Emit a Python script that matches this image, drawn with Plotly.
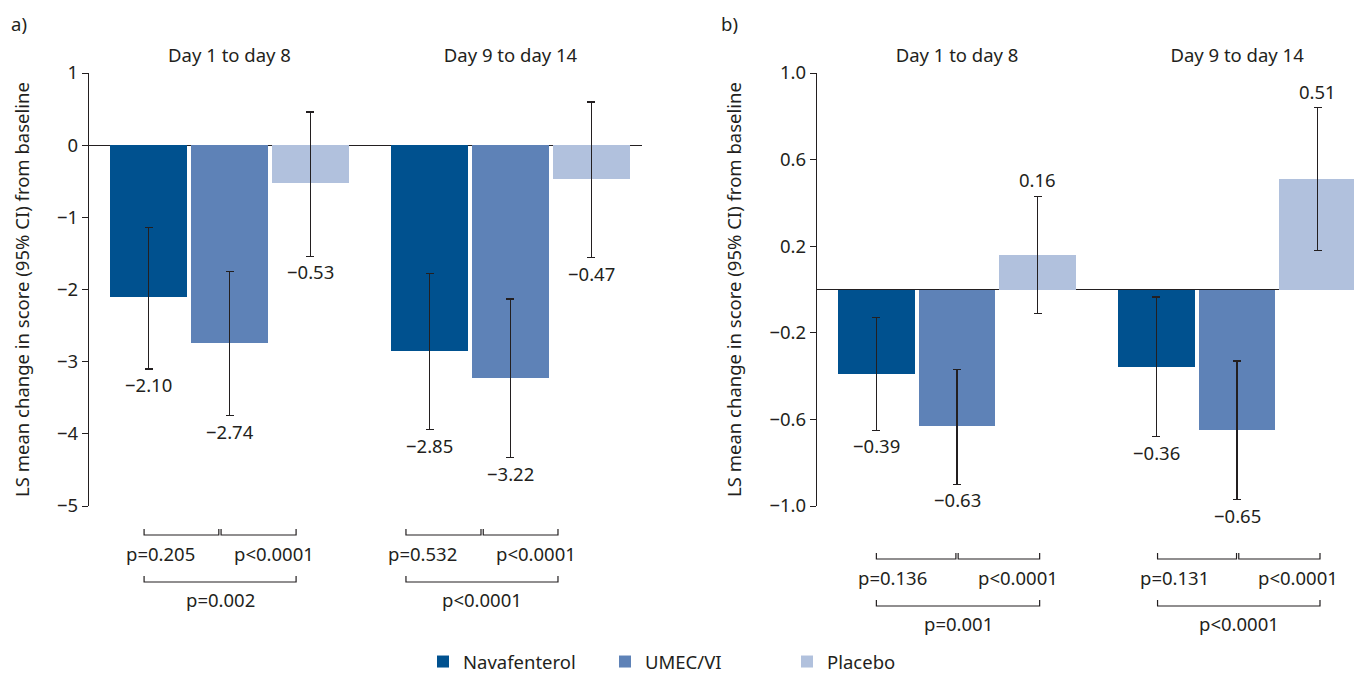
import plotly.graph_objects as go

# ---------------- data ----------------
groups = ["Day 1 to day 8", "Day 9 to day 14"]
treatments = ["Navafenterol", "UMEC/VI", "Placebo"]
colors = ["#00518f", "#5e82b7", "#b1c1dd"]

# panel a
a_nav_mean = [-2.10, -2.85]
a_nav_lo = [-3.10, -3.94]
a_nav_hi = [-1.14, -1.78]
a_umec_mean = [-2.74, -3.22]
a_umec_lo = [-3.75, -4.33]
a_umec_hi = [-1.75, -2.13]
a_pla_mean = [-0.53, -0.47]
a_pla_lo = [-1.54, -1.56]
a_pla_hi = [0.46, 0.60]

# panel b
b_nav_mean = [-0.39, -0.36]
b_nav_lo = [-0.65, -0.68]
b_nav_hi = [-0.13, -0.035]
b_umec_mean = [-0.63, -0.65]
b_umec_lo = [-0.90, -0.97]
b_umec_hi = [-0.37, -0.33]
b_pla_mean = [0.16, 0.51]
b_pla_lo = [-0.11, 0.18]
b_pla_hi = [0.43, 0.84]

# p-values
a_p_nav_umec = ["p=0.205", "p=0.532"]
a_p_umec_pla = ["p<0.0001", "p<0.0001"]
a_p_nav_pla = ["p=0.002", "p<0.0001"]
b_p_nav_umec = ["p=0.136", "p=0.131"]
b_p_umec_pla = ["p<0.0001", "p<0.0001"]
b_p_nav_pla = ["p=0.001", "p<0.0001"]

a_yticks = [1, 0, -1, -2, -3, -4, -5]
b_yticks = [1.0, 0.6, 0.2, -0.2, -0.6, -1.0]

# ---------------- style / layout constants ----------------
FONT = "Noto Sans, Source Sans Pro, sans-serif"
FS = 18.5
TXT = "#231f20"
SLOT = 0.288      # distance between bar centres within a group
BAR_W = 0.274
OFF = 8                   # page offset of the figure (default body margin)
H_TOP, H_BOT = 73, 506    # page rows of plot-area top/bottom
FIG_W, FIG_H = 1362, 674


def py(pix):
    """page row -> paper y"""
    return (H_BOT - pix) / (H_BOT - H_TOP)


def pxf(pix):
    """page column -> paper x"""
    return (pix - OFF) / FIG_W


def fmt(v):
    return f"{v:.2f}".replace("-", "\u2212")


fig = go.Figure()

panels = [
    dict(x="x", y="y",
         means=[a_nav_mean, a_umec_mean, a_pla_mean],
         los=[a_nav_lo, a_umec_lo, a_pla_lo],
         his=[a_nav_hi, a_umec_hi, a_pla_hi],
         p=[a_p_nav_umec, a_p_umec_pla, a_p_nav_pla],
         brx=[[-0.304, -0.034, 0.237], [-0.372, -0.101, 0.169]],
         rows=[535, 582], texts=[553, 599], legend=True),
    dict(x="x2", y="y2",
         means=[b_nav_mean, b_umec_mean, b_pla_mean],
         los=[b_nav_lo, b_umec_lo, b_pla_lo],
         his=[b_nav_hi, b_umec_hi, b_pla_hi],
         p=[b_p_nav_umec, b_p_umec_pla, b_p_nav_pla],
         brx=[[-0.288, 0.0, 0.295], [-0.284, 0.002, 0.296]],
         rows=[559, 606], texts=[577, 623], legend=False),
]

annotations = []
shapes = []

for pn in panels:
    for s, name in enumerate(treatments):
        m = pn["means"][s]
        lo = pn["los"][s]
        hi = pn["his"][s]
        xs = [g + (s - 1) * SLOT for g in range(len(groups))]
        fig.add_trace(go.Bar(
            x=xs, y=m, width=BAR_W, name=name,
            marker=dict(color=colors[s], line=dict(width=0)),
            error_y=dict(type="data", symmetric=False,
                         array=[h - v for h, v in zip(hi, m)],
                         arrayminus=[v - l for v, l in zip(m, lo)],
                         color=TXT, thickness=1.3, width=4),
            xaxis=pn["x"], yaxis=pn["y"],
            legendgroup=name, showlegend=pn["legend"],
            hoverinfo="skip",
        ))
        for xv, v, l, h in zip(xs, m, lo, hi):
            if v < 0:
                annotations.append(dict(
                    x=xv, y=l, xref=pn["x"], yref=pn["y"], text=fmt(v),
                    showarrow=False, yanchor="top", yshift=-1,
                    font=dict(family=FONT, size=FS, color=TXT)))
            else:
                annotations.append(dict(
                    x=xv, y=h, xref=pn["x"], yref=pn["y"], text=fmt(v),
                    showarrow=False, yanchor="bottom", yshift=2,
                    font=dict(family=FONT, size=FS, color=TXT)))

    # significance brackets
    r1, r2 = pn["rows"]
    t1, t2 = pn["texts"]
    for g in range(len(groups)):
        l, mid, r = [g + d for d in pn["brx"][g]]
        gap = 0.004
        for x0, x1, row in [(l, mid - gap, r1), (mid + gap, r, r1), (l, r, r2)]:
            yb = py(row)
            yt = py(row - 6)
            shapes.append(dict(
                type="path", xref=pn["x"], yref="paper",
                path=f"M {x0},{yt} L {x0},{yb} L {x1},{yb} L {x1},{yt}",
                line=dict(color=TXT, width=1.2)))
        annotations.append(dict(
            x=l, y=py(t1), xref=pn["x"], yref="paper", text=pn["p"][0][g],
            showarrow=False, xanchor="left", yanchor="middle", xshift=-20,
            font=dict(family=FONT, size=FS, color=TXT)))
        annotations.append(dict(
            x=r, y=py(t1), xref=pn["x"], yref="paper", text=pn["p"][1][g],
            showarrow=False, xanchor="right", yanchor="middle", xshift=20,
            font=dict(family=FONT, size=FS, color=TXT)))
        annotations.append(dict(
            x=(l + r) / 2, y=py(t2), xref=pn["x"], yref="paper", text=pn["p"][2][g],
            showarrow=False, xanchor="center", yanchor="middle",
            font=dict(family=FONT, size=FS, color=TXT)))

# panel labels
for lab, px in [("a)", 9), ("b)", 719)]:
    annotations.append(dict(
        x=pxf(px), y=py(24), xref="paper", yref="paper", text=lab,
        showarrow=False, xanchor="left", yanchor="middle",
        font=dict(family=FONT, size=FS, color=TXT)))

ytitle = "LS mean change in score (95% CI) from baseline"
common_x = dict(tickmode="array", tickvals=list(range(len(groups))), ticktext=groups,
                side="top", showline=False, ticks="", showgrid=False, zeroline=False,
                ticklabelstandoff=6, automargin=False,
                tickfont=dict(family=FONT, size=FS, color=TXT), fixedrange=True)
common_y = dict(showline=True, linecolor=TXT, linewidth=1.3, ticks="outside",
                ticklen=6, tickwidth=1.3, tickcolor=TXT, showgrid=False,
                zeroline=True, zerolinecolor=TXT, zerolinewidth=1.3, automargin=False,
                tickfont=dict(family=FONT, size=FS, color=TXT),
                title=dict(text=ytitle, font=dict(family=FONT, size=FS, color=TXT),
                           standoff=22))

fig.update_layout(
    template="none",
    width=FIG_W, height=FIG_H,
    margin=dict(l=0, r=0, t=H_TOP - OFF, b=FIG_H - (H_BOT - OFF), autoexpand=False),
    paper_bgcolor="white", plot_bgcolor="white",
    font=dict(family=FONT, size=FS, color=TXT),
    bargap=0, barmode="overlay",
    xaxis=dict(domain=[pxf(89), pxf(642)], range=[-0.5, 1.468], anchor="y", **common_x),
    xaxis2=dict(domain=[pxf(817), pxf(1362)], range=[-0.5, 1.446], anchor="y2", **common_x),
    yaxis=dict(domain=[0, 1], range=[-5, 1], tickmode="array", tickvals=a_yticks,
               anchor="x", **common_y),
    yaxis2=dict(domain=[0, 1], range=[-1, 1], tickmode="array", tickvals=b_yticks,
                tickformat=".1f", anchor="x2", **common_y),
    legend=dict(orientation="h", x=pxf(696), xanchor="center", y=py(662), yanchor="middle",
                font=dict(family=FONT, size=FS, color=TXT), entrywidth=137,
                bgcolor="rgba(0,0,0,0)"),
    annotations=annotations, shapes=shapes,
    showlegend=True,
)

fig.write_html("out.html")
